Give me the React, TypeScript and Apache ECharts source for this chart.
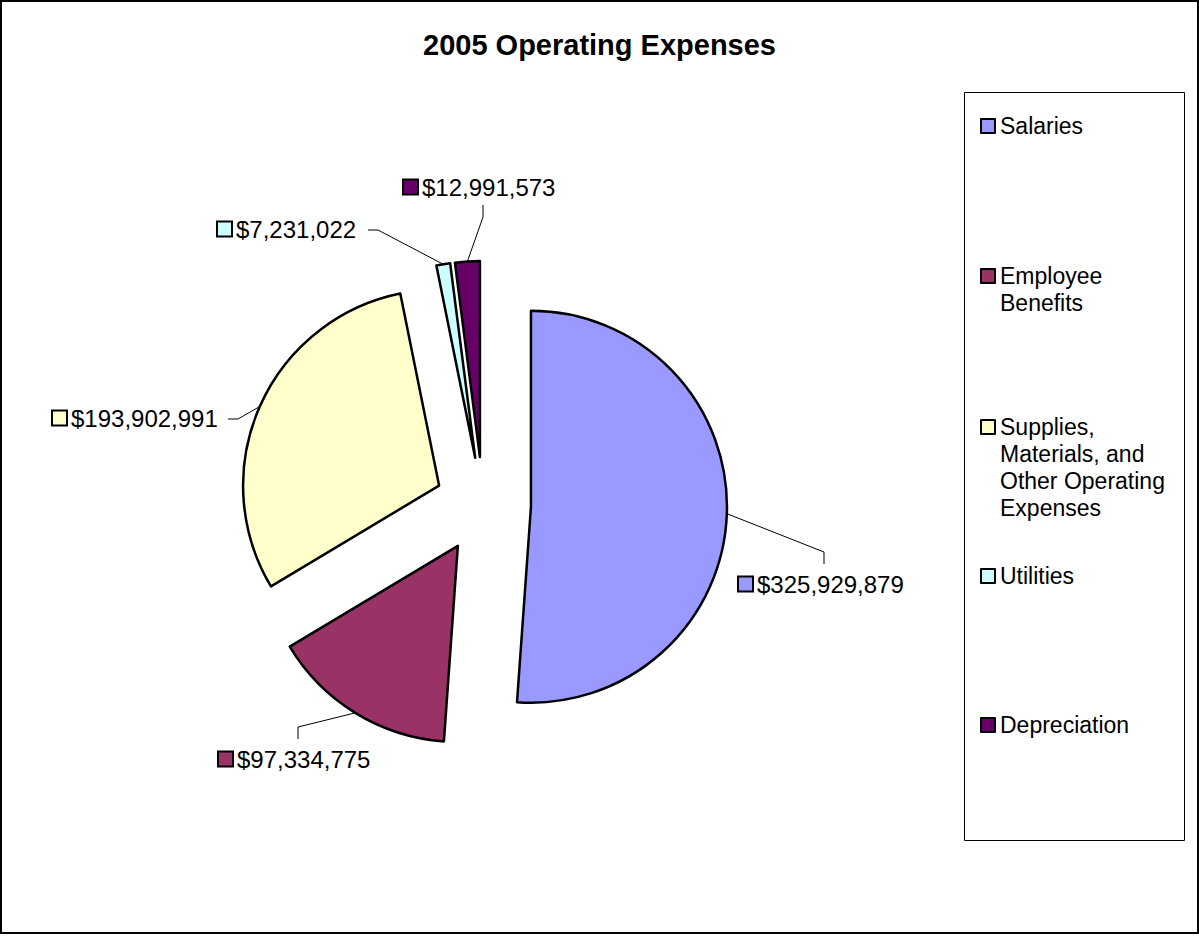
import React, { useEffect, useRef } from "react";
import * as echarts from "echarts";

const categories = [
  "Salaries",
  "Employee Benefits",
  "Supplies, Materials, and Other Operating Expenses",
  "Utilities",
  "Depreciation",
];
const legendLabels = [
  "Salaries",
  "Employee\nBenefits",
  "Supplies,\nMaterials, and\nOther Operating\nExpenses",
  "Utilities",
  "Depreciation",
];
const values = [325929879, 97334775, 193902991, 7231022, 12991573];
const colors = ["#9999FF", "#993366", "#FFFFCC", "#CCFFFF", "#660066"];

// layout: label anchors, leader-line bends, legend icon centres
const labelPos = [
  [739, 584],
  [219, 759],
  [53, 418],
  [218, 229],
  [404, 187],
];
const labelBend = [
  [[824, 552], [824, 564]],
  [[298, 727], [298, 739]],
  [[238, 419], [228, 419]],
  [[378, 230], [368, 230]],
  [[483, 217], [483, 205]],
];
const legendIconCenters = [126, 276, 427, 576, 725];
const PIE_CENTER = [483, 505];
const PIE_RADIUS = 196;
const EXPLODE = 48;
const LINE_H = 27;

const FONT = "'Liberation Sans', Arial, sans-serif";

export default function App() {
  const ref = useRef<HTMLDivElement>(null);
  useEffect(() => {
    if (!ref.current) return;
    const chart = echarts.init(ref.current, undefined, { renderer: "svg" });
    const fmt = (v: number) => "$" + v.toLocaleString("en-US");
    const total = values.reduce((a, b) => a + b, 0);

    const hidden = (v: number) => ({
      name: "",
      value: v,
      itemStyle: { color: "transparent", borderWidth: 0 },
      label: { show: false },
      labelLine: { show: false },
      emphasis: { disabled: true },
    });

    let cum = 0;
    const series = categories.map((name, i) => {
      const before = cum;
      const after = total - cum - values[i];
      const mid = ((before + values[i] / 2) / total) * Math.PI * 2;
      cum += values[i];
      const cx = PIE_CENTER[0] + EXPLODE * Math.sin(mid);
      const cy = PIE_CENTER[1] - EXPLODE * Math.cos(mid);
      const rich: any = {
        sq: {
          width: 13,
          height: 13,
          backgroundColor: colors[i],
          borderColor: "#000",
          borderWidth: 2,
        },
        v: { fontSize: 24, fontFamily: FONT, color: "#000", padding: [0, 0, 0, 5] },
      };
      return {
        type: "pie",
        id: "slice" + i,
        center: [cx, cy],
        radius: PIE_RADIUS,
        startAngle: 90,
        clockwise: true,
        avoidLabelOverlap: false,
        selectedMode: false,
        emphasis: { disabled: true },
        itemStyle: { borderColor: "#000", borderWidth: 2.5 },
        label: {
          show: true,
          formatter: (p: any) => `{sq|}{v|${fmt(p.value)}}`,
          rich,
        },
        labelLine: { show: true, lineStyle: { color: "#000", width: 1 } },
        labelLayout: (params: any) => {
          const p0 = params.labelLinePoints ? params.labelLinePoints[0] : labelBend[i][0];
          return {
            x: labelPos[i][0],
            y: labelPos[i][1],
            align: "left",
            verticalAlign: "middle",
            labelLinePoints: [p0, labelBend[i][0], labelBend[i][1]],
          };
        },
        data: [
          hidden(before),
          { name, value: values[i], itemStyle: { color: colors[i] } },
          hidden(after),
        ],
      };
    });

    const option: any = {
      animation: false,
      backgroundColor: "#fff",
      title: {
        text: "2005 Operating Expenses",
        left: "center",
        top: 30,
        padding: 0,
        textStyle: { fontSize: 29, fontWeight: "bold", fontFamily: FONT, color: "#000" },
      },
      legend: categories.map((name, i) => {
        const lines = legendLabels[i].split("\n");
        const n = lines.length;
        const txt = "\n".repeat(n - 1) + legendLabels[i];
        return {
          data: [{ name, itemStyle: { color: colors[i], borderColor: "#000", borderWidth: 2 } }],
          left: 980,
          top: legendIconCenters[i] - ((2 * n - 1) * LINE_H) / 2,
          padding: 0,
          orient: "vertical",
          icon: "rect",
          itemWidth: 14,
          itemHeight: 14,
          selectedMode: false,
          formatter: () => txt,
          textStyle: {
            fontSize: 23,
            fontFamily: FONT,
            color: "#000",
            lineHeight: LINE_H,
          },
          itemStyle: { borderColor: "#000", borderWidth: 2 },
        };
      }),
      graphic: [
        {
          type: "rect",
          shape: { x: 1, y: 1, width: 1197, height: 932 },
          style: { fill: "none", stroke: "#000", lineWidth: 2 },
          silent: true,
        },
        {
          type: "rect",
          shape: { x: 964.5, y: 92.5, width: 220, height: 748 },
          style: { fill: "none", stroke: "#000", lineWidth: 1 },
          silent: true,
        },
      ],
      series,
    };
    chart.setOption(option);
    return () => chart.dispose();
  }, []);
  return (
    <div
      ref={ref}
      style={{ position: "absolute", left: 0, top: 0, width: 1199, height: 936, background: "#fff" }}
    />
  );
}
